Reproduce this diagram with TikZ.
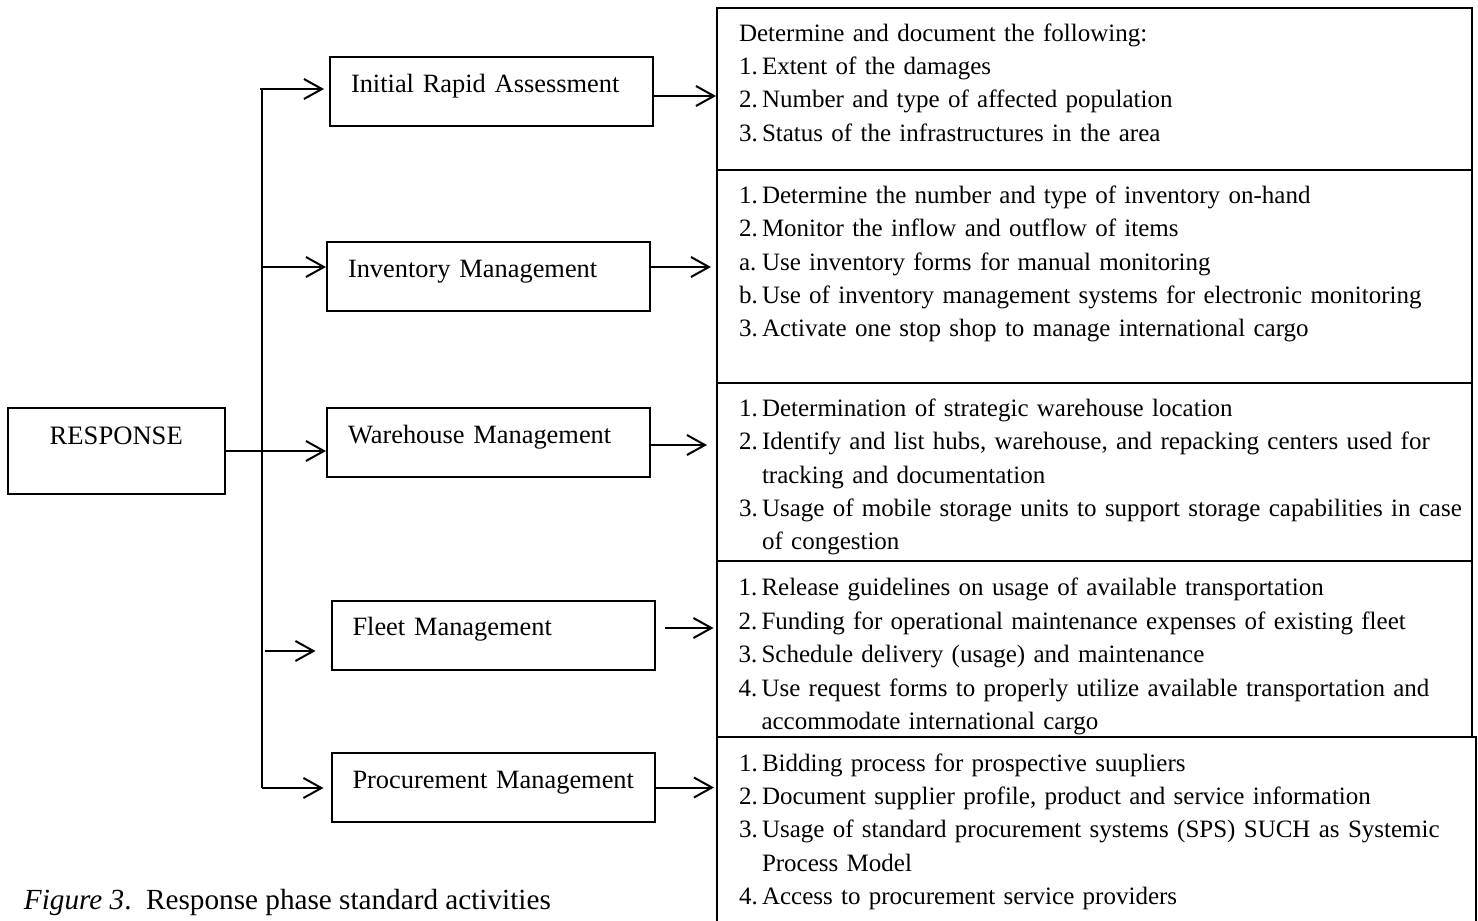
\documentclass[tikz,border=0pt]{standalone}
\usepackage{fontspec}
\setmainfont{Liberation Serif}
\usetikzlibrary{arrows.meta}
\newcommand{\actitem}[2]{\makebox[11.5pt][l]{#1}\mbox{#2}}
\newcommand{\actcont}[1]{\hspace*{11.5pt}\mbox{#1}}
\begin{document}
\begin{tikzpicture}[x=0.5pt,y=-0.5pt,line width=1pt,>={Straight Barb[length=9pt,width=10pt]}]
			\tikzset{phase/.style={draw,inner xsep=0pt,inner ysep=0pt,text width=108.75pt,align=center,
					text height=18pt,text depth=25pt,font=\fontsize{13.3}{16}\selectfont},
				task/.style={draw,inner xsep=10.5pt,inner ysep=0pt,text width=140.5pt,align=left,
					text height=17.5pt,text depth=17pt,font=\fontsize{13.2}{16}\selectfont},
				act/.style={draw,inner xsep=11pt,inner ysep=0pt,text width=355.5pt,align=left,
					font=\fontsize{12.5}{16.7}\selectfont}
			}
			\useasboundingbox (0,0) rectangle (1478,921);
			\clip (0,0) rectangle (1478,921);
			\node[phase] (resp) at (116.25,451) {RESPONSE};
			\node[task] (ira) at (491.5,91.5) {Initial Rapid Assessment};
			\node[task] (inv) at (488.5,276.5) {Inventory Management};
			\node[task] (ware) at (488.5,442.5) {Warehouse Management};
			\node[task] (fleet) at (493,635) {Fleet Management};
			\node[task] (proc) at (493,787.5) {\mbox{Procurement Management}};
			\node[act,text height=16.6pt,text depth=64.4pt] (act1) at (1094.5,89) {Determine and document the following:\\
				\actitem{1.}{Extent of the damages}\\
				\actitem{2.}{Number and type of affected population}\\
				\actitem{3.}{Status of the infrastructures in the area}};
			\node[act,text height=16.6pt,text depth=89.9pt] (act2) at (1094.5,276.5) {\actitem{1.}{Determine the number and type of inventory on-hand}\\
				\actitem{2.}{Monitor the inflow and outflow of items}\\
				\actitem{a.}{Use inventory forms for manual monitoring}\\
				\actitem{b.}{Use of inventory management systems for electronic monitoring}\\
				\actitem{3.}{Activate one stop shop to manage international cargo}};
			\node[act,text height=16.6pt,text depth=72.4pt] (act3) at (1094.5,472) {\actitem{1.}{Determination of strategic warehouse location}\\
				\actitem{2.}{Identify and list hubs, warehouse, and repacking centers used for}\\
				\actcont{tracking and documentation}\\
				\actitem{3.}{Usage of mobile storage units to support storage capabilities in case}\\
				\actcont{of congestion}};
			\node[act,text height=17.4pt,text depth=70.6pt] (act4) at (1094,649) {\actitem{1.}{Release guidelines on usage of available transportation}\\
				\actitem{2.}{Funding for operational maintenance expenses of existing fleet}\\
				\actitem{3.}{Schedule delivery (usage) and maintenance}\\
				\actitem{4.}{Use request forms to properly utilize available transportation and}\\
				\actcont{accommodate international cargo}};
			\node[act,text width=357.5pt,text height=17pt,text depth=94.5pt] (act5) at (1096.5,848.5) {\actitem{1.}{Bidding process for prospective suupliers}\\
				\actitem{2.}{Document supplier profile, product and service information}\\
				\actitem{3.}{Usage of standard procurement systems (SPS) SUCH as Systemic}\\
				\actcont{Process Model}\\
				\actitem{4.}{Access to procurement service providers}};
			\node[anchor=base west,inner sep=0pt,font=\fontsize{14.6}{16}\selectfont] (cap) at (23,909) {\textit{Figure 3}.\ \ Response phase standard activities};
			\coordinate (trk1) at (262,89);
			\coordinate (trk2) at (262,267);
			\coordinate (trk5) at (262,788);
			\coordinate (fl) at (265,651);
			\draw (trk1) -- (trk5);
			\draw[->,shorten >=2.5pt] ([xshift=-1pt]trk1) -- (trk1 -| ira.west);
			\draw[->] (trk2) -- (trk2 -| inv.west);
			\draw[->] (resp.east) -- (resp.east -| ware.west);
			\draw[->,shorten >=7.5pt] (fl) -- (fl -| fleet.west);
			\draw[->,shorten >=3.5pt] (trk5) -- (trk5 -| proc.west);
			\draw[->] ([yshift=-2.25pt]ira.east) -- ([yshift=-2.25pt]ira.east -| act1.west);
			\draw[->,shorten >=2.5pt] ([yshift=4.75pt]inv.east) -- ([yshift=4.75pt]inv.east -| act2.west);
			\draw[->,shorten >=4.5pt] ([yshift=-1.25pt]ware.east) -- ([yshift=-1.25pt]ware.east -| act3.west);
			\draw[->,shorten <=4.5pt,shorten >=1pt] ([yshift=3.5pt]fleet.east) -- ([yshift=3.5pt]fleet.east -| act4.west);
			\draw[->,shorten >=1pt] (proc.east) -- (proc.east -| act5.west);
\end{tikzpicture}
\end{document}
